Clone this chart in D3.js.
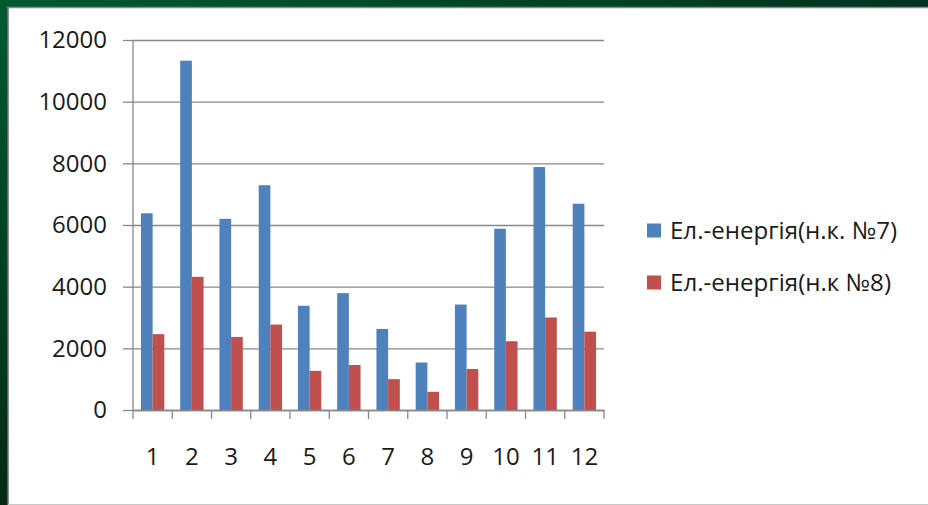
<!DOCTYPE html>
<html>
<head>
<meta charset="utf-8">
<script src="https://cdn.jsdelivr.net/npm/d3@7"></script>
<style>
  html, body { margin: 0; padding: 0; background: #fff; }
  svg { display: block; }
</style>
</head>
<body>
<svg id="chart" width="928" height="505"></svg>
<script>
// Monthly electricity consumption for two pumping stations
const months = ["1", "2", "3", "4", "5", "6", "7", "8", "9", "10", "11", "12"];
const seriesNames = ["Ел.-енергія(н.к. №7)", "Ел.-енергія(н.к №8)"];
const station7 = [6380, 11330, 6200, 7290, 3380, 3790, 2630, 1540, 3420, 5880, 7880, 6690];
const station8 = [2460, 4320, 2370, 2770, 1270, 1460, 1000, 590, 1330, 2230, 3000, 2540];
const yTicks = [0, 2000, 4000, 6000, 8000, 10000, 12000];
const colors = ["#4f81bd", "#c0504d"];

const svg = d3.select("#chart");
const W = 928, H = 505;

// Slide frame: dark green edge with a white panel inset
const defs = svg.append("defs");
const gTop = defs.append("linearGradient").attr("id", "gTop").attr("x1", 0).attr("x2", 1).attr("y1", 0).attr("y2", 0);
gTop.append("stop").attr("offset", 0).attr("stop-color", "#005a30");
gTop.append("stop").attr("offset", 1).attr("stop-color", "#00331c");
const gLeft = defs.append("linearGradient").attr("id", "gLeft").attr("x1", 0).attr("x2", 0).attr("y1", 0).attr("y2", 1);
gLeft.append("stop").attr("offset", 0).attr("stop-color", "#005a30");
gLeft.append("stop").attr("offset", 1).attr("stop-color", "#002a16");

svg.append("rect").attr("x", 0).attr("y", 0).attr("width", W).attr("height", 7).attr("fill", "url(#gTop)");
svg.append("rect").attr("x", 0).attr("y", 0).attr("width", 8).attr("height", H).attr("fill", "url(#gLeft)");
svg.append("rect").attr("x", 8).attr("y", 7).attr("width", W - 8).attr("height", H - 7).attr("fill", "#ffffff");
// soft shadow along the panel's top and left edges
svg.append("line").attr("x1", 7).attr("x2", W).attr("y1", 7.5).attr("y2", 7.5).attr("stroke", "#8a8a8a").attr("stroke-width", 1.5);
svg.append("line").attr("x1", 8.2).attr("x2", 8.2).attr("y1", 7).attr("y2", H).attr("stroke", "#8a8a8a").attr("stroke-width", 1.5);
svg.append("line").attr("x1", 8).attr("x2", W).attr("y1", H - 0.5).attr("y2", H - 0.5).attr("stroke", "#c8c8c8").attr("stroke-width", 1);

// Plot area
const plotLeft = 133, plotRight = 604, plotTop = 40, plotBottom = 410;

const y = d3.scaleLinear().domain([0, 12000]).range([plotBottom, plotTop]);
const x0 = d3.scaleBand().domain(months).range([plotLeft, plotRight]).paddingInner(0).paddingOuter(0);
const x1 = d3.scaleBand().domain(seriesNames).range([0, x0.bandwidth()]).paddingInner(0).paddingOuter(0.68);

const axisColor = "#888888";
const fontFamily = "'Open Sans', 'Noto Sans', sans-serif";

// Horizontal gridlines with outward tick marks
const yAxis = d3.axisLeft(y).tickValues(yTicks).tickSizeInner(-(plotRight - plotLeft)).tickSizeOuter(0).tickPadding(26)
  .tickFormat(d3.format("d"));
const gy = svg.append("g").attr("transform", `translate(${plotLeft},0)`).call(yAxis);
gy.select(".domain").remove();
gy.selectAll(".tick line").attr("stroke", axisColor).attr("stroke-width", 1.3);
gy.selectAll(".tick").append("line")
  .attr("x1", -10).attr("x2", 0).attr("stroke", axisColor).attr("stroke-width", 1.3);
gy.selectAll(".tick text")
  .attr("font-family", fontFamily).attr("font-size", 24).attr("fill", "#1a1a1a");

// Vertical axis line
svg.append("line").attr("x1", plotLeft).attr("x2", plotLeft).attr("y1", plotTop).attr("y2", plotBottom)
  .attr("stroke", axisColor).attr("stroke-width", 1.3);

// Bars
const groups = svg.append("g").selectAll("g")
  .data(months.map((m, i) => ({ m, vals: [station7[i], station8[i]] })))
  .join("g")
  .attr("transform", d => `translate(${x0(d.m)},0)`);

groups.selectAll("rect")
  .data(d => d.vals.map((v, k) => ({ name: seriesNames[k], v, k })))
  .join("rect")
  .attr("x", d => x1(d.name))
  .attr("width", x1.bandwidth())
  .attr("y", d => y(d.v))
  .attr("height", d => y(0) - y(d.v))
  .attr("fill", d => colors[d.k]);

// Category axis with ticks between categories
const xAxis = d3.axisBottom(x0).tickSize(0).tickPadding(38);
const gx = svg.append("g").attr("transform", `translate(0,${plotBottom})`).call(xAxis);
gx.select(".domain").attr("stroke", axisColor).attr("stroke-width", 1.3);
gx.selectAll(".tick text")
  .attr("font-family", fontFamily).attr("font-size", 24).attr("fill", "#1a1a1a");
const boundaries = months.map(m => x0(m)).concat([x0.range()[1]]);
svg.append("g").selectAll("line")
  .data(boundaries)
  .join("line")
  .attr("x1", d => d).attr("x2", d => d)
  .attr("y1", plotBottom).attr("y2", plotBottom + 9)
  .attr("stroke", axisColor).attr("stroke-width", 1.3);

// Legend
const legend = svg.append("g").attr("transform", "translate(647,0)");
const legendY = [231, 283];
seriesNames.forEach((name, k) => {
  legend.append("rect")
    .attr("x", 0).attr("y", legendY[k] - 7.5)
    .attr("width", 14).attr("height", 14)
    .attr("fill", colors[k]);
  legend.append("text")
    .attr("x", 23).attr("y", legendY[k])
    .attr("dy", "0.35em")
    .attr("font-family", fontFamily).attr("font-size", 24).attr("fill", "#1a1a1a")
    .attr("textLength", k === 0 ? 227 : 221)
    .attr("lengthAdjust", "spacingAndGlyphs")
    .text(name);
});
</script>
</body>
</html>
